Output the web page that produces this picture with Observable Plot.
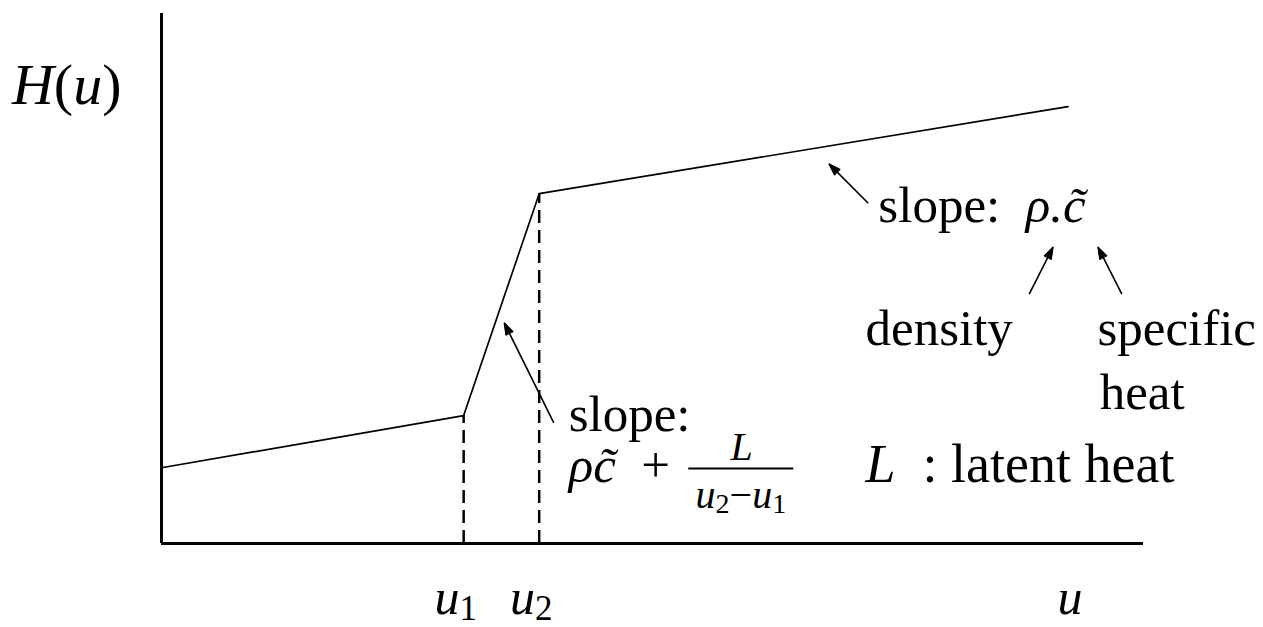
<!DOCTYPE html>
<html>
<head>
<meta charset="utf-8">
<script src="https://cdn.jsdelivr.net/npm/d3@7"></script>
<script src="https://cdn.jsdelivr.net/npm/@observablehq/plot@0.6"></script>
<style>
  html, body { margin: 0; padding: 0; background: #fff; }
  #chart { width: 1263px; height: 627px; }
</style>
</head>
<body>
<div id="chart"></div>
<script>
// Enthalpy H(u) as a function of temperature u, with a phase change between u1 and u2.
// Markup inside labels: $...$ = italic (math), _x = subscript character.
const temps     = [0, 4, 5, 12];            // u
const enthalpy  = [1.0, 1.69, 4.62, 5.77];  // H(u)
const phaseEnds = [4, 5];                   // u1, u2
const tickLabels = ["$u$_1", "$u$_2"];
const endLabel = "$u$";

// Notes: anchor (x, y = baseline), text, alignment, size
const noteX     = [-1.98, 9.49, 9.32, 12.39, 12.42, 9.32, 5.39, 5.39, 7.68, 7.67];
const noteY     = [5.81, 4.25, 2.62, 2.62, 1.78, 0.81, 1.49, 0.81, 1.10, 0.47];
const noteText  = ["$H$($u$)", "slope:\u2002$ρ.c̃$", "density", "specific", "heat",
                   "$L$\u2002: latent heat", "slope:", "$ρc̃$\u2002+", "$L$", "$u$_2−$u$_1"];
const noteAlign = ["start", "start", "start", "start", "start", "start", "start", "start", "middle", "middle"];
const noteSize  = [58, 51, 51, 51, 51, 54, 51, 51, 40, 40];

// Fraction bar of L / (u2 − u1)
const fracBar = [{x1: 6.98, x2: 8.37, y: 0.99}];

// Pointer arrows: tail (x1, y1) → head (x2, y2)
const arrowX1 = [9.35, 11.49, 12.71, 5.19];
const arrowY1 = [4.50, 3.30, 3.30, 1.60];
const arrowX2 = [8.84, 11.80, 12.40, 4.54];
const arrowY2 = [5.01, 3.91, 3.91, 2.91];

const FONT = "'Liberation Serif', 'DejaVu Serif', serif";

const curve = temps.map((u, i) => ({u, H: enthalpy[i]}));
const dashed = phaseEnds.map(u => ({u, H: enthalpy[temps.indexOf(u)]}));
const ticks = phaseEnds.map((u, i) => ({u, label: tickLabels[i]}));
const notes = noteText.map((text, i) => ({x: noteX[i], y: noteY[i], text, align: noteAlign[i], size: noteSize[i]}));
const arrows = arrowX1.map((x1, i) => ({x1, y1: arrowY1[i], x2: arrowX2[i], y2: arrowY2[i]}));

// Text mark whose y value is the baseline
function noteMark(rows, size, anchor) {
  return Plot.text(rows, {
    x: "x", y: "y", text: "text", textAnchor: anchor, lineAnchor: "middle",
    dy: -0.32 * size, fontSize: size, fontFamily: FONT, fill: "black"
  });
}

const sizes = [...new Set(noteSize)];
const noteMarks = [];
for (const s of sizes) for (const a of ["start", "middle"]) {
  const rows = notes.filter(d => d.size === s && d.align === a);
  if (rows.length) noteMarks.push(noteMark(rows, s, a));
}

const chart = Plot.plot({
  width: 1263,
  height: 627,
  marginLeft: 161,
  marginRight: 120,
  marginTop: 13,
  marginBottom: 84,
  x: {domain: [0, 13], axis: null},
  y: {domain: [0, 7], axis: null},
  style: {background: "white", fontFamily: FONT},
  marks: [
    // axes
    Plot.ruleX([0], {y1: 0, y2: 7, stroke: "black", strokeWidth: 3}),
    Plot.ruleY([0], {x1: 0, x2: 13, stroke: "black", strokeWidth: 3}),
    // phase-change bounds
    Plot.ruleX(dashed, {x: "u", y1: 0, y2: "H", stroke: "black", strokeWidth: 2.5, strokeDasharray: "13,7"}),
    // H(u)
    Plot.line(curve, {x: "u", y: "H", stroke: "black", strokeWidth: 1.7}),
    // tick labels under the axis
    Plot.text(ticks, {x: "u", text: "label", frameAnchor: "bottom", lineAnchor: "middle",
      dy: 54, dx: -8, fontSize: 50, fontFamily: FONT, fill: "black"}),
    Plot.text([{u: temps[temps.length - 1], label: endLabel}], {x: "u", text: "label", frameAnchor: "bottom",
      lineAnchor: "middle", dy: 54, dx: 2, fontSize: 50, fontFamily: FONT, fill: "black"}),
    // annotations
    ...noteMarks,
    Plot.ruleY(fracBar, {x1: "x1", x2: "x2", y: "y", stroke: "black", strokeWidth: 2}),
    Plot.arrow(arrows, {x1: "x1", y1: "y1", x2: "x2", y2: "y2", stroke: "black",
      strokeWidth: 1.6, headLength: 11, headAngle: 36})
  ]
});

document.getElementById("chart").appendChild(chart);

// Turn the $…$ / _x markup into italic and subscript tspans
function richText(root) {
  const ns = "http://www.w3.org/2000/svg";
  root.querySelectorAll("text").forEach(t => {
    const src = t.textContent;
    if (!/[$_]/.test(src)) return;
    const fs = parseFloat(getComputedStyle(t).fontSize);
    const runs = [];
    let italic = false;
    for (let i = 0; i < src.length; i++) {
      let ch = src[i];
      if (ch === "$") { italic = !italic; continue; }
      let sub = false;
      if (ch === "_") { sub = true; ch = src[++i]; }
      const last = runs[runs.length - 1];
      if (last && last.italic === italic && last.sub === sub) last.s += ch;
      else runs.push({s: ch, italic, sub});
    }
    t.textContent = "";
    let shift = 0;
    for (const r of runs) {
      const ts = document.createElementNS(ns, "tspan");
      ts.textContent = r.s;
      if (r.italic) ts.setAttribute("font-style", "italic");
      const want = r.sub ? 0.13 * fs : 0;
      if (want !== shift) { ts.setAttribute("dy", want - shift); shift = want; }
      if (r.sub) ts.setAttribute("font-size", 0.7 * fs);
      t.appendChild(ts);
    }
  });
}
richText(chart);

// Fill the arrowheads: close each head's two strokes into a solid triangle
function fillArrowHeads(root) {
  const ns = "http://www.w3.org/2000/svg";
  root.querySelectorAll('g[aria-label="arrow"] path').forEach(p => {
    const n = (p.getAttribute("d").match(/-?\d*\.?\d+(?:e-?\d+)?/g) || []).map(Number);
    if (n.length < 10) return;
    const [hx1, hy1, tx, ty, hx2, hy2] = n.slice(n.length - 6);
    const tri = document.createElementNS(ns, "path");
    tri.setAttribute("d", `M${hx1},${hy1}L${tx},${ty}L${hx2},${hy2}Z`);
    tri.setAttribute("fill", "black");
    tri.setAttribute("stroke", "black");
    tri.setAttribute("stroke-width", "1");
    p.parentNode.appendChild(tri);
  });
}
fillArrowHeads(chart);
</script>
</body>
</html>
